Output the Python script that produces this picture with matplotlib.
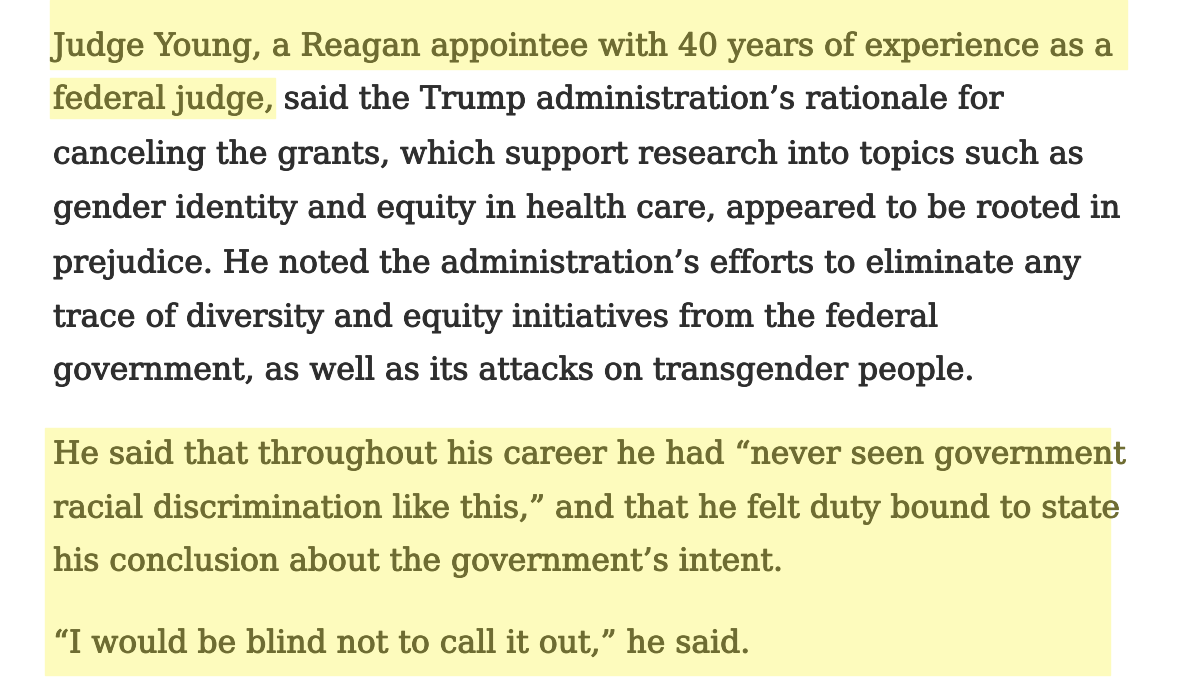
import matplotlib.pyplot as plt
import matplotlib.patheffects as pe
from matplotlib.patches import Rectangle

# text lines: (segments, y centre); each segment is (text, highlighted?)
lines = [
    [("Judge Young, a Reagan appointee with 40 years of experience as a", True)],
    [("federal judge,", True), (" said the Trump administration\u2019s rationale for", False)],
    [("canceling the grants, which support research into topics such as", False)],
    [("gender identity and equity in health care, appeared to be rooted in", False)],
    [("prejudice. He noted the administration\u2019s efforts to eliminate any", False)],
    [("trace of diversity and equity initiatives from the federal", False)],
    [("government, as well as its attacks on transgender people.", False)],
    [("He said that throughout his career he had \u201cnever seen government", True)],
    [("racial discrimination like this,\u201d and that he felt duty bound to state", True)],
    [("his conclusion about the government\u2019s intent.", True)],
    [("\u201cI would be blind not to call it out,\u201d he said.", True)],
]
line_y = [47, 100, 155, 209, 264, 318, 371, 455, 509, 562, 644]

# highlight boxes: x, y, w, h
highlights = [(50, 0, 1077, 69), (50, 78, 225, 40), (45, 428, 1065, 247)]

hl_color = "#fdfbbd"
olive = "#6e6c32"
dark = "#2e2e2e"

fig = plt.figure(figsize=(12, 6.95), dpi=100)
ax = fig.add_axes([0, 0, 1, 1])
ax.set_xlim(0, 1200)
ax.set_ylim(695, 0)
ax.axis("off")

for x, y, w, h in highlights:
    ax.add_patch(Rectangle((x, y), w, h, color=hl_color, zorder=0))

fig.canvas.draw()
renderer = fig.canvas.get_renderer()
inv = ax.transData.inverted()
for segs, y in zip(lines, line_y):
    x = 53
    for text, hl in segs:
        c = olive if hl else dark
        t = ax.text(x, y, text, fontsize=22.6, family="DejaVu Serif",
                    color=c, va="center", ha="left",
                    path_effects=[pe.withStroke(linewidth=0.7, foreground=c)])
        bb = t.get_window_extent(renderer)
        x = inv.transform((bb.x1, bb.y0))[0]

fig.savefig("out.png", dpi=100)
